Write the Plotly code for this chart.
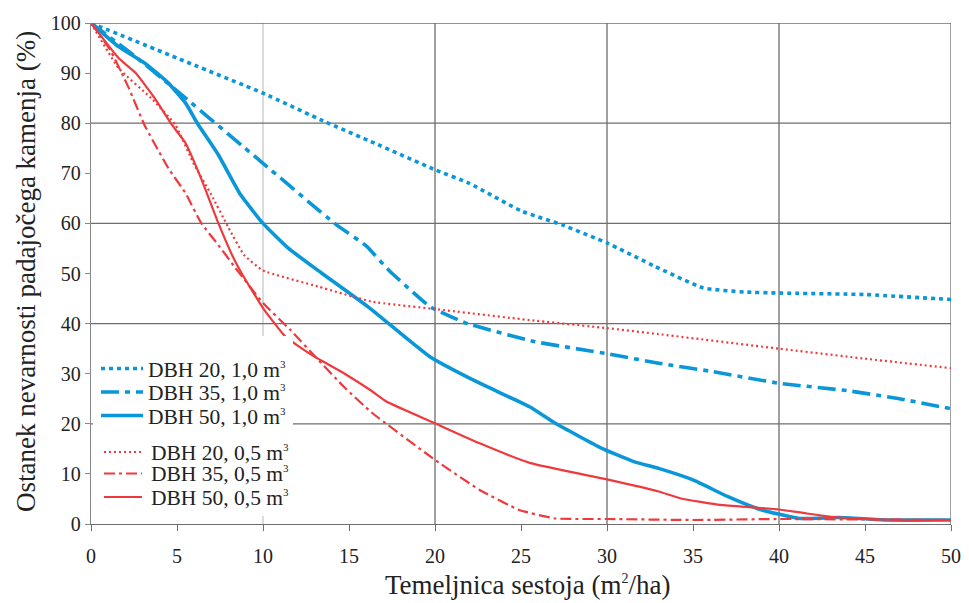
import plotly.graph_objects as go

# ---------------- data ----------------
x_b20 = [0, 5, 10, 13.6, 16.5, 20, 22, 25, 27.4, 30, 32.8, 35.6, 38, 40, 45, 50]
y_b20 = [100, 93, 86, 80.3, 76, 70.7, 68, 62.5, 59.7, 56.1, 51.4, 47.1, 46.3, 46.1, 45.8, 44.8]

x_b35 = [0, 2.5, 4.7, 10, 14.2, 16, 17.3, 19.7, 21.8, 25.8, 30, 33, 36, 40, 44, 47, 50]
y_b35 = [100, 93.5, 87.3, 72, 59.9, 55.5, 50.7, 43.4, 40.1, 36.4, 34, 32.1, 30.5, 28.1, 26.6, 25, 23]

x_b50 = [0, 1.6, 3.2, 4.5, 5.5, 6.2, 7.4, 8.7, 10, 11.45, 13.4, 16.2, 19.7, 22.6, 25.5, 27,
         29.7, 31.6, 33, 35, 37, 38.9, 41.2, 43.5, 46.2, 50]
y_b50 = [100, 95.3, 91.8, 88, 84, 79.9, 73.7, 65.7, 60, 55.1, 50.1, 43.1, 33.4, 28.1, 23.4, 20.1,
         15.1, 12.4, 11.1, 8.8, 5.5, 2.9, 1.1, 1.3, 0.8, 0.8]

x_r20 = [0, 1.6, 3.5, 4.9, 6, 7, 8, 8.9, 10, 13.2, 16.3, 20, 25.5, 30, 33, 40, 45, 50]
y_r20 = [100, 91, 85, 79.7, 71.7, 65.7, 59.1, 53.7, 50.6, 47.4, 44.4, 42.9, 40.7, 39.1, 37.9, 35, 33, 31.1]

x_r35 = [0, 1.1, 2.2, 3.1, 4.5, 5.5, 6.4, 7.4, 8.4, 10, 11.6, 13.2, 14.7, 16.3, 20, 22.6, 24.9,
         27, 30, 35, 40, 45, 50]
y_r35 = [100, 94.7, 87, 79.7, 71, 66, 60.1, 55.7, 51.1, 44.1, 38.7, 32.8, 27.4, 22.3, 12.8, 6.8, 2.8,
         1.1, 1.0, 0.8, 1.0, 0.9, 0.8]

x_r50 = [0, 1.6, 2.6, 3.7, 4.7, 5.5, 6.4, 7.4, 8.2, 8.75, 10, 11.3, 12.8, 14.7, 16.3, 17.2, 20,
         22.6, 25.5, 30, 33, 34.3, 36.6, 38.5, 40, 41.6, 43.5, 46, 50]
y_r50 = [100, 93, 90, 85, 79.7, 76, 69, 60.1, 53.7, 50.1, 43.1, 37.4, 33.8, 30.1, 26.6, 24.4, 20.1,
         16.1, 12.2, 8.9, 6.5, 5.1, 3.8, 3.3, 2.9, 2.1, 1.3, 0.9, 0.8]

SUP3 = "<sup><span style='font-size:11px'>3</span></sup>"
labels = ["DBH 20, 1,0 m" + SUP3, "DBH 35, 1,0 m" + SUP3, "DBH 50, 1,0 m" + SUP3,
          "DBH 20, 0,5 m" + SUP3, "DBH 35, 0,5 m" + SUP3, "DBH 50, 0,5 m" + SUP3]
x_title = "Temeljnica sestoja (m<sup><span style='font-size:14px'>2</span></sup>/ha)"
y_title = "Ostanek nevarnosti padajočega kamenja (%)"

x_ticks = [0, 5, 10, 15, 20, 25, 30, 35, 40, 45, 50]
y_ticks = [0, 10, 20, 30, 40, 50, 60, 70, 80, 90, 100]
x_grid = [10, 20, 30, 40, 50]
y_grid = [20, 40, 60, 80, 100]

# ---------------- styles ----------------
BLUE = "#0A97D9"
RED = "#EE3A3C"
FONT = "Liberation Serif"
TXT = "#222222"
styles = [
    dict(color=BLUE, width=3.6, dash="4px,4px"),
    dict(color=BLUE, width=3.6, dash="18px,6px,5px,6px"),
    dict(color=BLUE, width=3.6, dash="solid"),
    dict(color=RED, width=2.2, dash="2px,3px"),
    dict(color=RED, width=2.2, dash="11px,4px,3px,4px"),
    dict(color=RED, width=2.2, dash="solid"),
]
series = [(x_b20, y_b20), (x_b35, y_b35), (x_b50, y_b50),
          (x_r20, y_r20), (x_r35, y_r35), (x_r50, y_r50)]

# the page body adds an 8px offset; page-pixel targets are converted below
OFF = 8
W, H = 969 - OFF, 603 - OFF
ML, MR, MT, MB = 91 - OFF, 18, 23 - OFF, 79
PW, PH = W - ML - MR, H - MT - MB

fig = go.Figure()
for (xs, ys), st, lab in zip(series, styles, labels):
    fig.add_trace(go.Scatter(x=xs, y=ys, mode="lines", line=st, name=lab,
                             showlegend=False, line_shape="spline",
                             line_smoothing=0.4))

shapes = []
for gx in x_grid:
    col = "#C8C8C8" if gx == 10 else "#6E6E6E"
    shapes.append(dict(type="line", xref="x", yref="paper", x0=gx, x1=gx, y0=0, y1=1,
                       line=dict(color=col, width=1.3), layer="below"))
for gy in y_grid:
    shapes.append(dict(type="line", xref="paper", yref="y", x0=0, x1=1, y0=gy, y1=gy,
                       line=dict(color="#6E6E6E", width=1.3), layer="below"))


def px(xp):  # page pixel -> paper x
    return (xp - OFF - ML) / PW


def py(yp):  # page pixel -> paper y
    return (H - MB - (yp - OFF)) / PH


# legend box
shapes.append(dict(type="rect", xref="paper", yref="paper", x0=px(93), x1=px(293),
                   y0=py(516), y1=py(336), fillcolor="white", line=dict(width=0),
                   layer="above"))
leg_y = [368.5, 392, 415.5, 452, 473.5, 497]
annotations = []
for i, (st, lab) in enumerate(zip(styles, labels)):
    x0, x1, tx = (101, 143, 146) if i < 3 else (104, 142, 149)
    shapes.append(dict(type="line", xref="paper", yref="paper", x0=px(x0), x1=px(x1),
                       y0=py(leg_y[i]), y1=py(leg_y[i]),
                       line=dict(color=st["color"], width=st["width"], dash=st["dash"]),
                       layer="above"))
    annotations.append(dict(xref="paper", yref="paper", x=px(tx), y=py(leg_y[i] + 1),
                            text=lab, showarrow=False, xanchor="left", yanchor="middle",
                            font=dict(family=FONT, size=21.5, color=TXT)))

# axis titles
annotations.append(dict(xref="paper", yref="paper", x=px(528), y=py(585), text=x_title,
                        showarrow=False, xanchor="center", yanchor="middle",
                        font=dict(family=FONT, size=27, color=TXT)))
annotations.append(dict(xref="paper", yref="paper", x=px(26), y=py(272), text=y_title,
                        showarrow=False, xanchor="center", yanchor="middle", textangle=-90,
                        font=dict(family=FONT, size=27, color=TXT)))

fig.update_layout(
    width=W, height=H,
    margin=dict(l=ML, r=MR, t=MT, b=MB, autoexpand=False),
    paper_bgcolor="white", plot_bgcolor="white",
    font=dict(family=FONT, color=TXT),
    shapes=shapes, annotations=annotations,
    showlegend=False,
    xaxis=dict(range=[0, 50], tickvals=x_ticks, ticktext=[str(v) for v in x_ticks],
               showgrid=False, zeroline=False, showline=True, linecolor="#6E6E6E",
               linewidth=1.3, ticks="outside", ticklen=6, tickcolor="#6E6E6E",
               ticklabelstandoff=8, automargin=False,
               tickfont=dict(family=FONT, size=20, color=TXT)),
    yaxis=dict(range=[0, 100], tickvals=y_ticks, ticktext=[str(v) for v in y_ticks],
               showgrid=False, zeroline=False, showline=True, linecolor="#888888",
               linewidth=1.3, ticks="outside", ticklen=5, tickcolor="#888888",
               automargin=False,
               tickfont=dict(family=FONT, size=20, color=TXT)),
)

fig.write_html("out.html")
